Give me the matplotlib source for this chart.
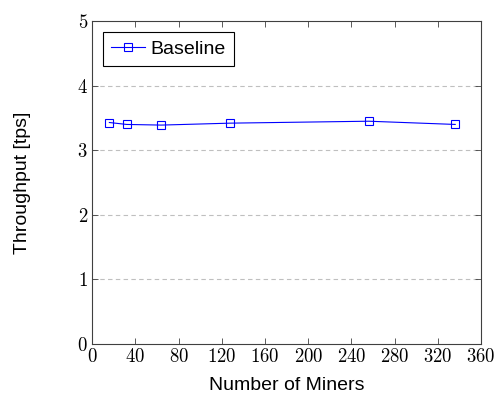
import matplotlib
matplotlib.use("Agg")
import matplotlib.pyplot as plt
import matplotlib.ticker as mticker

plt.rcParams['font.family'] = ['Liberation Sans', 'DejaVu Sans']
plt.rcParams['mathtext.fontset'] = 'cm'

# data
miners = [16, 32, 64, 128, 256, 336]
throughput = [3.43, 3.40, 3.39, 3.42, 3.45, 3.40]
x_ticks = [0, 40, 80, 120, 160, 200, 240, 280, 320, 360]
y_ticks = [0, 1, 2, 3, 4, 5]

fig = plt.figure(figsize=(4.95, 3.99), dpi=100)
ax = fig.add_axes([0.186, 0.138, 0.786, 0.809])

for y in y_ticks[1:-1]:
    ax.axhline(y, color='#bfbfbf', linestyle=(0, (4, 3)), lw=0.8, zorder=0)

ax.plot(miners, throughput, color='blue', lw=0.8, marker='s', markersize=5.5,
        markerfacecolor='none', markeredgecolor='blue', markeredgewidth=0.8,
        label='Baseline')

ax.set_xlim(0, 360)
ax.set_ylim(0, 5)
ax.set_xticks(x_ticks)
ax.set_yticks(y_ticks)
ax.xaxis.set_major_formatter(mticker.FuncFormatter(lambda v, p: r'$%d$' % v))
ax.yaxis.set_major_formatter(mticker.FuncFormatter(lambda v, p: r'$%d$' % v))
ax.tick_params(direction='in', top=True, right=True, length=4, width=0.6,
               labelsize=13.5, colors='#404040', labelcolor='black', pad=3)
for s in ax.spines.values():
    s.set_color('#404040')
    s.set_linewidth(0.8)

ax.set_xlabel('Number of Miners', fontsize=14, labelpad=8)
ax.set_ylabel('Throughput [tps]', fontsize=14, labelpad=33)

leg = ax.legend(loc='upper left', fontsize=14, fancybox=False, framealpha=1,
                edgecolor='black', handlelength=1.75, handletextpad=0.3,
                borderpad=0.42, bbox_to_anchor=(0.0, 1.0), borderaxespad=0.55)
leg.get_frame().set_linewidth(0.8)

fig.savefig('out.png', dpi=100)
